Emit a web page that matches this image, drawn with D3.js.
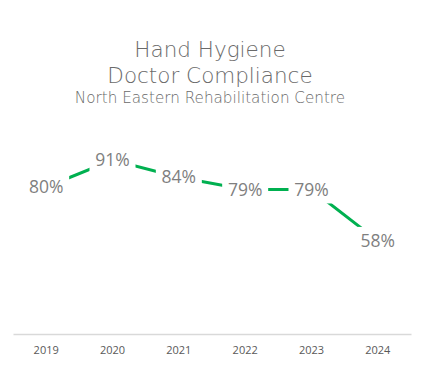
<!DOCTYPE html>
<html>
<head>
<meta charset="utf-8">
<script src="https://cdn.jsdelivr.net/npm/d3@7"></script>
<style>
  body { margin: 0; background: #fff; }
</style>
</head>
<body>
<script>
// data
const years = ["2019", "2020", "2021", "2022", "2023", "2024"];
const compliance = [0.80, 0.91, 0.84, 0.79, 0.79, 0.58];
const titleLines = ["Hand Hygiene", "Doctor Compliance"];
const subtitle = "North Eastern Rehabilitation Centre";

const width = 424;
const height = 365;

const svg = d3.select("body")
    .append("svg")
    .attr("width", width)
    .attr("height", height);

// titles
svg.selectAll("text.title")
    .data(titleLines)
    .enter()
    .append("text")
    .attr("class", "title")
    .attr("x", 210)
    .attr("y", (d, i) => 57 + i * 26)
    .attr("text-anchor", "middle")
    .style("font-family", "'DejaVu Sans', sans-serif")
    .style("font-weight", "300")
    .style("font-size", "21.5px")
    .style("fill", "#6a6a6a")
    .text(d => d);

svg.append("text")
    .attr("x", 210)
    .attr("y", 103)
    .attr("text-anchor", "middle")
    .style("font-family", "'DejaVu Sans', sans-serif")
    .style("font-weight", "300")
    .style("font-size", "15.2px")
    .style("fill", "#6a6a6a")
    .text(subtitle);

// scales
const x = d3.scaleBand()
    .domain(years)
    .range([13, 411]);

const y = d3.scaleLinear()
    .domain([0.2, 1.0])
    .range([334, 138]);

// x axis
const xAxis = d3.axisBottom(x).tickSize(0).tickPadding(12);

const gx = svg.append("g")
    .attr("transform", "translate(0,334)")
    .call(xAxis);

gx.select(".domain").attr("stroke", "#d9d9d9").attr("stroke-width", 1.5);
gx.selectAll("text")
    .style("font-family", "'Open Sans', sans-serif")
    .style("font-size", "11px")
    .style("fill", "#595959");

// line
const line = d3.line()
    .x((d, i) => x(years[i]) + x.bandwidth() / 2)
    .y(d => y(d));

svg.append("path")
    .datum(compliance)
    .attr("d", line)
    .attr("fill", "none")
    .attr("stroke", "#00b050")
    .attr("stroke-width", 3);

// labels with white boxes
const labels = svg.selectAll("g.label")
    .data(compliance)
    .enter()
    .append("g")
    .attr("class", "label")
    .attr("transform", (d, i) => `translate(${x(years[i]) + x.bandwidth() / 2},${y(d)})`);

labels.append("rect")
    .attr("x", -23)
    .attr("y", -14)
    .attr("width", 46)
    .attr("height", 28)
    .attr("fill", "#fff");

labels.append("text")
    .attr("text-anchor", "middle")
    .attr("dy", "0.35em")
    .style("font-family", "'Open Sans', sans-serif")
    .style("font-size", "17.5px")
    .style("fill", "#7f7f7f")
    .text(d => Math.round(d * 100) + "%");
</script>
</body>
</html>
